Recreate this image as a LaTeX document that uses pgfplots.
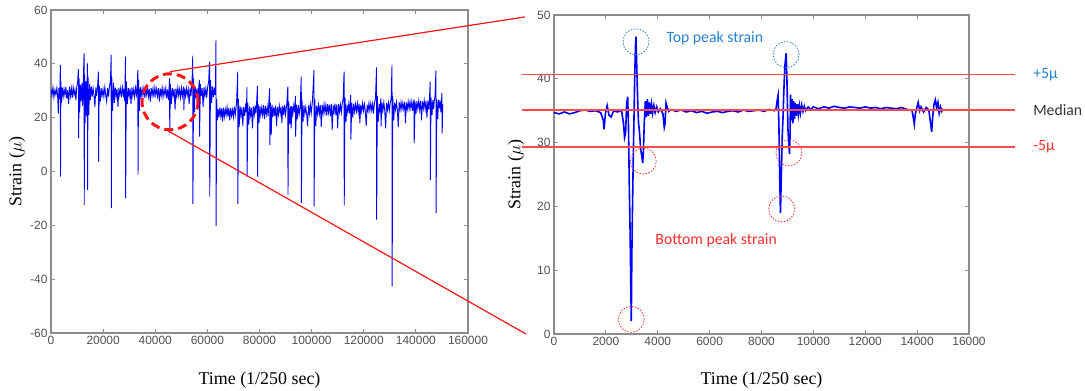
\documentclass[border=0pt]{standalone}
\usepackage{fontspec}
\setmainfont{Liberation Serif}
\newfontfamily\ticksf{Liberation Sans}
\newfontfamily\notefont{Carlito}
\usepackage{pgfplots}
\pgfplotsset{compat=1.18}

\definecolor{sigblue}{RGB}{0,0,255}
\definecolor{refred}{RGB}{255,75,75}
\definecolor{zoomred}{RGB}{250,20,20}
\definecolor{noteblue}{RGB}{40,130,210}
\definecolor{notered}{RGB}{255,45,45}
\definecolor{framegray}{RGB}{140,140,140}
\definecolor{ticktext}{RGB}{80,80,80}

\pgfplotsset{
  strainaxis/.style={
    scale only axis,
    axis line style={framegray, line width=1.5bp},
    tick style={framegray, line width=0.8bp},
    major tick length=4bp,
    tick label style={font=\ticksf\fontsize{12}{14}\selectfont, text=ticktext},
    /pgf/number format/assume math mode=true,
    /pgf/number format/fixed,
    /pgf/number format/1000 sep={},
    scaled ticks=false,
    label style={font=\fontsize{18}{20}\selectfont},
    xlabel={Time (1/250 sec)},
    ylabel={Strain ($\mu$)},
  }
}

\begin{document}
\begin{tikzpicture}
\path[use as bounding box] (0,0) rectangle (1085bp,391bp);

% ---------------- full record ----------------
\begin{axis}[strainaxis,
  at={(51bp,58bp)}, anchor=south west,
  width=417bp, height=323bp,
  xmin=0, xmax=160000, ymin=-60, ymax=60,
  xtick={0,20000,...,160000}, ytick={-60,-40,...,60},
  x label style={at={(axis description cs:0.5,-0.1455)}, anchor=center},
  y label style={at={(axis description cs:-0.0815,0.5)}, anchor=center},
]
\addplot[sigblue, line width=0.9bp] coordinates {
(0,30.7) (375,28.1) (750,31.2) (1125,27.6) (1500,30.4) (1875,28.6) (2250,31.0) (2600,27.2)
(2800,21.5) (3000,31.0) (3350,27.0) (3590,39.6) (3650,-1.9) (3800,33.5) (4000,25.5)
(4300,31.2) (4650,27.8) (5000,30.6) (5350,28.3) (5700,31.4) (6050,27.1) (6400,30.2)
(6750,25.0) (7100,31.5) (7450,28.0) (7800,30.9) (8150,27.4) (8500,31.3) (8850,28.5)
(9200,30.4) (9550,26.5) (9900,31.6) (10200,33.0) (10520,38.0) (10600,12.4) (10800,34.5)
(11000,22.0) (11300,32.2) (11600,26.0) (11900,33.0) (12150,24.5) (12400,34.0)
(12690,43.9) (12760,-12.4) (12900,36.0) (13100,18.0) (13400,33.5) (13700,20.5)
(13960,40.2) (14030,-6.8) (14200,35.5) (14500,21.0) (14800,32.5) (15100,26.5)
(15450,31.6) (15800,27.8) (16150,30.9) (16500,28.2) (16850,24.0) (17200,31.2)
(17550,28.0) (17900,32.0) (18200,37.1) (18260,3.7) (18500,32.0) (18900,26.0)
(19250,31.0) (19600,28.1) (19950,30.6) (20300,27.9) (20650,31.3) (21000,28.4)
(21350,26.0) (21700,31.0) (22050,27.8) (22400,31.5) (22800,33.5) (23080,43.3)
(23140,-13.6) (23300,35.5) (23600,22.5) (24000,33.0) (24300,25.5) (24650,31.2)
(25000,27.9) (25350,30.7) (25700,24.0) (26050,31.1) (26400,28.3) (26750,30.9)
(27100,27.6) (27450,31.2) (27800,28.4) (28100,30.8) (28300,26.0) (28590,42.7)
(28650,-9.9) (28900,33.5) (29300,25.0) (29650,31.0) (30000,28.0) (30350,30.9)
(30700,25.0) (31050,31.2) (31400,28.1) (31750,30.6) (32100,27.7) (32450,31.1)
(32800,28.6) (33050,31.5) (33330,37.7) (33390,-1.2) (33600,34.0) (33900,22.5)
(34250,31.3) (34600,27.9) (34950,30.8) (35300,28.2) (35650,31.0) (36000,27.4)
(36350,30.7) (36700,28.5) (37050,31.2) (37400,27.8) (37750,30.6) (38100,26.0)
(38450,31.0) (38800,28.3) (39150,30.9) (39500,27.6) (39850,31.2) (40200,28.4)
(40550,30.7) (40900,27.9) (41250,31.0) (41600,26.0) (41950,30.8) (42300,28.2)
(42650,31.1) (43000,27.7) (43350,30.6) (43700,28.5) (44050,31.0) (44400,27.2)
(44750,30.5) (45100,26.5) (45500,34.6) (45560,14.2) (45800,32.5) (46200,25.0)
(46550,31.0) (46900,28.3) (47250,30.6) (47600,23.0) (47950,30.9) (48300,27.8)
(48650,31.1) (49000,28.2) (49350,30.6) (49700,27.5) (50050,31.0) (50400,28.0)
(50700,30.2) (50900,31.5) (50960,22.9) (51250,30.8) (51600,27.9) (51950,31.0)
(52300,28.4) (52650,30.5) (53000,25.0) (53350,30.9) (53700,28.0) (54100,33.0)
(54400,43.0) (54460,-12.0) (54700,34.5) (55000,22.0) (55350,31.5) (55700,27.5)
(56050,30.9) (56400,26.8) (56700,31.5) (56950,34.0) (57010,13.0) (57300,32.5)
(57650,28.0) (58000,31.0) (58350,24.0) (58700,31.3) (59050,28.0) (59400,30.8)
(59750,27.5) (60100,31.2) (60500,33.5) (60840,40.8) (60900,-9.3) (61200,34.0)
(61600,25.5) (61950,31.6) (62300,27.6) (62650,31.2) (62900,28.5) (63100,30.5)
(63300,48.9) (63360,-20.2) (63550,27.0) (63800,19.0)
(64100,23.2) (64450,20.1) (64800,23.8) (65150,20.6) (65500,23.4) (65800,18.5)
(66150,23.7) (66500,20.3) (66850,23.1) (67200,20.9) (67550,24.0) (67900,20.4)
(68250,23.6) (68600,19.0) (68950,23.5) (69300,20.7) (69650,22.9) (70000,20.2)
(70350,24.1) (70700,21.0) (71200,25.5) (71660,37.1) (71720,-12.0) (71900,27.0)
(72200,16.5) (72550,24.2) (72900,20.8) (73250,23.8) (73600,17.0) (73950,24.0)
(74300,20.6) (74650,24.3) (74950,22.0) (75210,31.3) (75270,-1.9) (75500,25.5)
(75900,17.5) (76250,24.2) (76600,20.8) (76950,23.6) (77300,16.0) (77650,24.2)
(78000,21.0) (78350,24.5) (78650,21.5) (78950,26.5) (79220,31.8) (79280,-1.9)
(79500,25.0) (79800,18.0) (80150,24.4) (80500,20.9) (80850,23.7) (81200,21.0)
(81550,24.6) (81900,19.5) (82250,24.3) (82600,21.2) (82950,24.0) (83300,20.5)
(83600,26.0) (83930,30.9) (83990,9.9) (84200,25.5) (84500,13.5) (84800,24.8)
(85150,20.2) (85500,24.0) (85850,20.7) (86200,24.5) (86550,17.0) (86900,23.9)
(87250,21.2) (87600,24.4) (87950,21.5) (88300,24.1) (88600,18.0) (88950,24.5)
(89300,21.0) (89650,24.7) (90000,21.2) (90500,25.5) (90870,31.5) (90930,-8.7)
(91200,26.0) (91600,17.5) (91900,24.2) (92150,16.0) (92450,24.3) (92800,21.3)
(93150,24.6) (93500,22.0) (93800,28.1) (93860,13.0) (94200,24.8) (94550,19.5)
(94900,24.6) (95250,21.4) (95600,24.0) (96030,35.3) (96090,-11.7) (96300,26.5)
(96700,18.5) (97050,24.6) (97400,21.3) (97750,23.9) (98100,21.3) (98450,17.0)
(98800,24.6) (99150,21.5) (99500,24.9) (99850,21.7) (100300,26.0) (100900,37.7)
(100960,-13.0) (101200,27.0) (101600,17.0) (101950,24.5) (102300,21.4) (102650,24.8)
(103000,21.5) (103350,24.6) (103700,16.5) (104050,24.8) (104400,21.6) (104750,25.0)
(105100,21.8) (105450,24.7) (105800,20.8) (106150,25.0) (106500,21.9) (106850,24.8)
(107200,20.5) (107550,25.1) (107900,15.5) (108250,24.6) (108600,22.0) (108950,25.2)
(109300,21.0) (109650,24.9) (110000,16.0) (110350,25.1) (110700,22.1) (111050,24.8)
(111400,21.9) (111750,25.3) (112100,27.0) (112450,37.1) (112510,-12.7) (112800,27.5)
(113200,18.5) (113550,24.8) (113900,22.0) (114250,25.1) (114600,21.6) (115000,28.5)
(115060,11.8) (115400,25.5) (115800,20.0) (116150,25.2) (116500,22.2) (116850,24.9)
(117200,22.4) (117550,25.3) (117900,22.0) (118250,25.2) (118500,18.0) (118850,24.7)
(119200,22.3) (119550,25.4) (119900,22.6) (120250,25.0) (120600,22.4) (120950,17.0)
(121300,24.8) (121650,22.5) (122000,25.4) (122350,22.5) (122700,25.3) (123050,22.7)
(123400,25.1) (123750,21.5) (124100,25.5) (124500,27.0) (124900,38.7) (124960,-17.9)
(125200,28.0) (125600,18.5) (126000,25.0) (126300,22.0) (126560,27.2) (126620,16.7)
(127000,25.5) (127350,22.6) (127700,25.6) (128050,22.8) (128400,16.0) (128750,25.4)
(129100,22.9) (129450,25.6) (129800,22.5) (130150,25.3) (130500,27.0) (130850,39.6)
(130910,-42.7) (131100,28.0) (131500,19.0) (131850,25.6) (132200,23.0) (132550,25.7)
(132900,22.8) (133250,16.5) (133600,25.8) (133950,23.1) (134300,25.8) (134650,23.0)
(135000,25.5) (135350,23.2) (135700,25.9) (136000,18.0) (136350,25.6) (136700,23.1)
(137050,25.9) (137400,23.2) (137750,26.0) (138100,23.4) (138450,26.0) (138800,22.5)
(139100,25.5) (139300,26.8) (139360,10.5) (139700,25.8) (140050,21.5) (140400,26.1)
(140750,23.4) (141100,26.2) (141450,23.0) (141800,26.3) (142150,19.0) (142500,26.0)
(142850,23.4) (143200,26.4) (143550,23.2) (143900,26.2) (144250,20.0) (144600,26.3)
(144950,23.0) (145200,27.0) (145500,33.4) (145560,-3.1) (145800,27.5) (146200,21.0)
(146500,26.5) (146800,23.3) (147100,26.6) (147350,28.0) (147700,37.5) (147760,-15.5)
(148000,27.0) (148400,19.5) (148700,26.6) (149000,23.5) (149300,26.4) (149600,22.0)
(150000,29.1) (150100,14.2) (150300,25.0)
};
% highlighted window
\addplot[only marks, mark=o, mark size=28bp, zoomred,
  mark options={line width=3bp, dash pattern=on 9bp off 5bp}] coordinates {(45660,25.9)};
\coordinate (zoomTop) at (axis cs:45660,37.1);
\coordinate (zoomBot) at (axis cs:45010,15.05);
\end{axis}

% ---------------- zoomed window ----------------
\begin{axis}[strainaxis,
  at={(554bp,57bp)}, anchor=south west,
  width=415bp, height=319bp,
  clip=false,
  xmin=0, xmax=16000, ymin=0, ymax=50,
  xtick={0,2000,...,16000}, ytick={0,10,...,50},
  x label style={at={(axis description cs:0.5,-0.1442)}, anchor=center},
  y label style={at={(axis description cs:-0.0916,0.5)}, anchor=center},
]
\addplot[sigblue, line width=1.6bp] coordinates {
(0,34.7) (200,34.5) (400,34.8) (600,34.5) (800,34.7) (1000,35.0) (1200,35.1) (1400,34.9)
(1600,35.0) (1800,34.7) (1900,33.5) (1930,32.1) (1980,34.5) (2050,35.8) (2120,34.3)
(2200,34.0) (2300,35.0) (2450,34.8) (2600,35.1) (2680,33.0) (2720,30.8) (2760,31.5)
(2800,36.0) (2840,37.2) (2870,33.0) (2900,24.0) (2930,17.0) (2960,8.0) (2980,2.0)
(3000,12.0) (3020,18.0) (3050,26.0) (3080,33.0) (3110,40.0) (3140,45.0) (3160,46.6)
(3180,43.5) (3200,40.5) (3230,36.0) (3260,33.0) (3300,31.5) (3340,29.0) (3380,28.0)
(3420,26.8) (3450,29.0) (3480,33.0) (3520,36.5) (3560,34.0) (3600,36.8) (3640,34.2)
(3680,36.3) (3720,34.5) (3760,36.0) (3800,34.6) (3850,35.8) (3900,34.7) (3960,35.6)
(4020,34.8) (4100,35.3) (4200,34.5) (4250,32.4) (4280,33.0) (4320,36.2) (4360,35.6)
(4420,34.9) (4500,35.2) (4700,34.9) (4900,35.1) (5100,34.8) (5300,35.0) (5500,34.7)
(5700,34.9) (5900,34.6) (6100,34.8) (6300,34.9) (6500,34.7) (6700,34.9) (6900,35.0)
(7100,34.8) (7300,35.1) (7500,34.9) (7700,35.0) (7900,35.1) (8100,34.9) (8300,35.2)
(8500,35.0) (8560,35.3) (8600,36.5) (8640,37.4) (8670,33.0) (8700,25.0) (8730,19.0)
(8760,24.0) (8800,31.0) (8830,34.0) (8860,38.0) (8900,42.0) (8950,44.0) (8980,40.0)
(9000,36.0) (9020,32.0) (9050,30.0) (9080,28.2) (9100,31.0) (9120,37.5) (9150,33.5)
(9180,36.8) (9210,33.0) (9240,36.5) (9270,33.7) (9300,36.2) (9340,34.2) (9380,36.0)
(9420,34.4) (9460,35.8) (9500,34.6) (9550,35.9) (9600,34.9) (9650,35.7) (9700,35.0)
(9800,35.6) (9900,35.2) (10000,35.6) (10200,35.3) (10400,35.6) (10600,35.4) (10800,35.7)
(11000,35.5) (11200,35.4) (11400,35.6) (11600,35.5) (11800,35.4) (12000,35.6) (12200,35.4)
(12400,35.5) (12600,35.3) (12800,35.5) (13000,35.4) (13200,35.3) (13400,35.5) (13600,35.2)
(13800,35.1) (13850,34.0) (13890,32.9) (13930,34.5) (13990,35.5) (14040,36.3) (14100,35.0)
(14150,35.6) (14250,34.8) (14350,35.5) (14450,35.1) (14520,33.0) (14560,31.7) (14600,34.0)
(14650,36.0) (14700,36.7) (14750,35.5) (14800,36.3) (14850,34.6) (14900,35.6) (14950,34.9)
(15000,35.3)
};
% median and +/-5 band
\addplot[refred, line width=1.3bp] coordinates {(-1234,40.7) (17770,40.7)};
\addplot[refred, line width=1.3bp] coordinates {(-1234,35.1) (17770,35.1)};
\addplot[refred, line width=1.3bp] coordinates {(-1234,29.3) (17770,29.3)};
% peaks
\addplot[only marks, mark=o, mark size=13bp, noteblue,
  mark options={line width=0.8bp, dash pattern=on 1.5bp off 1.5bp}]
  coordinates {(3163,45.8) (8950,43.8)};
\addplot[only marks, mark=o, mark size=13bp, notered,
  mark options={line width=0.8bp, dash pattern=on 1.5bp off 1.5bp}]
  coordinates {(3441,27.1) (9057,28.4) (8780,19.6) (2978,2.3)};
\node[font=\notefont\fontsize{15.8}{18}\selectfont, text=noteblue] at (axis cs:6200,46.4) {Top peak strain};
\node[font=\notefont\fontsize{15.8}{18}\selectfont, text=notered] at (axis cs:6250,14.7) {Bottom peak strain};
\node[anchor=west, inner sep=0pt, font=\notefont\fontsize{15.8}{18}\selectfont, text=noteblue] at (axis cs:18470,40.7) {+5µ};
\node[anchor=west, inner sep=0pt, font=\notefont\fontsize{15.8}{18}\selectfont, text=black!80] at (axis cs:18470,35.1) {Median};
\node[anchor=west, inner sep=0pt, font=\notefont\fontsize{15.8}{18}\selectfont, text=notered] at (axis cs:18470,29.3) {-5µ};
\coordinate (winTop) at (axis cs:-1118,49.7);
\coordinate (winBot) at (axis cs:-1080,0);
\end{axis}

\draw[zoomred, line width=1.2bp] (zoomTop) -- (winTop);
\draw[zoomred, line width=1.2bp] (zoomBot) -- (winBot);
\end{tikzpicture}
\end{document}
